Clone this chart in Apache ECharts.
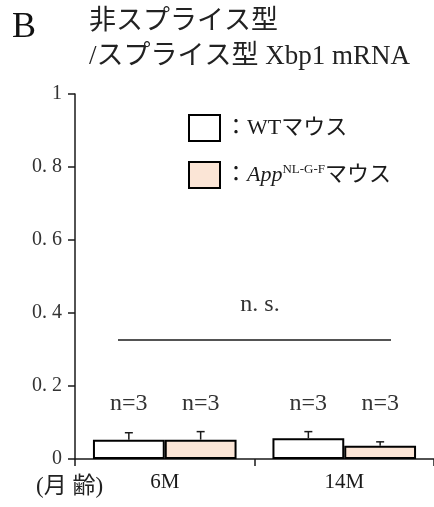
<!DOCTYPE html>
<html>
<head>
<meta charset="utf-8">
<script src="https://cdn.jsdelivr.net/npm/echarts@6/dist/echarts.min.js"></script>
<style>
  html, body { margin: 0; padding: 0; background: #fff; }
  #chart { width: 434px; height: 507px; }
</style>
</head>
<body>
<div id="chart"></div>
<script>
// Xbp1 mRNA ratio (unspliced / spliced) by age, WT vs App NL-G-F mice
const categories = ['6M', '14M'];
const wtMeans = [0.053, 0.057];
const wtErrors = [0.019, 0.018];
const appMeans = [0.053, 0.036];
const appErrors = [0.022, 0.011];
const wtCounts = ['n=3', 'n=3'];
const appCounts = ['n=3', 'n=3'];
const yMin = 0, yMax = 1, yStep = 0.2;

const SERIF = "'Liberation Serif', 'Noto Sans CJK JP', serif";
const INK = '#1a1a1a';
const BAR_FRACTION = 0.4;

const chart = echarts.init(document.getElementById('chart'), null, { renderer: 'canvas' });

// Upward error bar plus the "n=" note above each category
function errorBarRenderer(means, errors, counts, side) {
  return function (params, api) {
    const i = api.value(0);
    const band = api.size([1, 0])[0];
    const dx = side * band * BAR_FRACTION / 2;
    const base = api.coord([i, means[i]]);
    const cap = api.coord([i, means[i] + errors[i]]);
    const x = base[0] + dx;
    const half = 4;
    // highest cap in this category sets the height of the count labels
    const topVal = Math.max(wtMeans[i] + wtErrors[i], appMeans[i] + appErrors[i]);
    const labelY = api.coord([i, topVal])[1] - 28;
    return {
      type: 'group',
      children: [
        { type: 'line', shape: { x1: x, y1: base[1], x2: x, y2: cap[1] },
          style: { stroke: INK, lineWidth: 1.5 } },
        { type: 'line', shape: { x1: x - half, y1: cap[1], x2: x + half, y2: cap[1] },
          style: { stroke: INK, lineWidth: 1.5 } },
        { type: 'text', x: x, y: labelY,
          style: { text: counts[i], font: "24px " + SERIF,
                   fill: '#333', align: 'center', verticalAlign: 'middle' } }
      ]
    };
  };
}

const option = {
  animation: false,
  backgroundColor: '#fff',
  grid: { left: 75, top: 94, bottom: 48, right: -5, containLabel: false },
  legend: {
    data: ['WT', 'App'],
    orient: 'vertical',
    left: 183,
    top: 109,
    itemWidth: 31,
    itemHeight: 26,
    itemGap: 19,
    icon: 'rect',
    selectedMode: false,
    itemStyle: { borderColor: '#000', borderWidth: 2 },
    textStyle: {
      fontFamily: SERIF, fontSize: 22, color: INK,
      rich: {
        t: { fontFamily: SERIF, fontSize: 22, color: INK },
        i: { fontFamily: SERIF, fontSize: 22, fontStyle: 'italic', color: INK },
        s: { fontFamily: SERIF, fontSize: 13, color: INK, verticalAlign: 'top', padding: [0, 0, 10, 0] }
      }
    },
    formatter: function (name) {
      return name === 'WT' ? '{t|：WTマウス}' : '{t|：}{i|App}{s|NL-G-F}{t|マウス}';
    }
  },
  xAxis: {
    type: 'category',
    data: categories,
    boundaryGap: true,
    axisLine: { lineStyle: { color: INK, width: 1.5 } },
    axisTick: { show: true, length: 7, inside: false, lineStyle: { color: INK, width: 1.5 } },
    axisLabel: { color: INK, fontFamily: SERIF, fontSize: 21, margin: 13 },
    splitLine: { show: false }
  },
  yAxis: {
    type: 'value',
    min: yMin,
    max: yMax,
    interval: yStep,
    axisLine: { show: true, lineStyle: { color: INK, width: 1.5 } },
    axisTick: { show: true, length: 7, lineStyle: { color: INK, width: 1.5 } },
    axisLabel: {
      color: '#333', fontFamily: SERIF, fontSize: 20, margin: 13,
      formatter: function (v) { return String(Math.round(v * 10) / 10).replace('.', '. '); }
    },
    splitLine: { show: false }
  },
  series: [
    {
      name: 'WT', type: 'bar', data: wtMeans,
      barWidth: (BAR_FRACTION * 100) + '%', barGap: '0%',
      itemStyle: { color: '#ffffff', borderColor: '#000', borderWidth: 2 }
    },
    {
      name: 'App', type: 'bar', data: appMeans,
      barWidth: (BAR_FRACTION * 100) + '%', barGap: '0%',
      itemStyle: { color: '#fbe5d6', borderColor: '#000', borderWidth: 2 }
    },
    {
      name: 'WT error', type: 'custom', z: 5,
      data: categories.map((c, i) => [i, wtMeans[i], wtErrors[i]]),
      renderItem: errorBarRenderer(wtMeans, wtErrors, wtCounts, -1)
    },
    {
      name: 'App error', type: 'custom', z: 5,
      data: categories.map((c, i) => [i, appMeans[i], appErrors[i]]),
      renderItem: errorBarRenderer(appMeans, appErrors, appCounts, 1)
    }
  ],
  graphic: [
    { type: 'text', left: 12, top: 10,
      style: { text: 'B', font: "36px 'Liberation Serif', serif", fill: '#111' } },
    { type: 'text', left: 89, top: 8,
      style: { text: '非スプライス型', font: "27px " + SERIF, fill: '#222' } },
    { type: 'text', left: 89, top: 43,
      style: { text: '/スプライス型 Xbp1 mRNA', font: "27px " + SERIF, fill: '#222' } },
    // significance bar across both ages
    { type: 'line', shape: { x1: 118, y1: 340, x2: 391, y2: 340 },
      style: { stroke: INK, lineWidth: 1.5 } },
    { type: 'text', x: 260, y: 305,
      style: { text: 'n. s.', font: "24px " + SERIF, fill: '#333', align: 'center', verticalAlign: 'middle' } },
    { type: 'text', left: 36, top: 475,
      style: { text: '(月 齢)', font: "23px " + SERIF, fill: '#222' } }
  ]
};

chart.setOption(option);
</script>
</body>
</html>
